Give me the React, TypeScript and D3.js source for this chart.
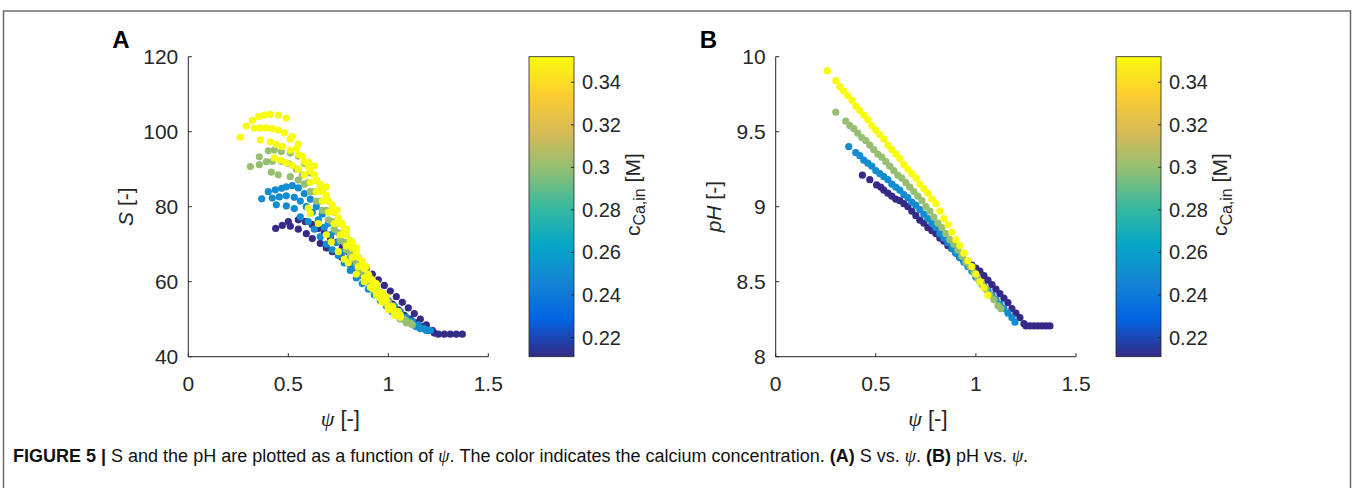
import React from 'react';
import * as d3 from 'd3';

// ---------- data ----------
const parulaColors = ['#352a87', '#0363e1', '#1485d4', '#06a7c6', '#38b99e', '#92bf73', '#d9ba56', '#fcce2e', '#f9fb0e'];
const cDomain = [0.211, 0.352];
const cTicks = [0.22, 0.24, 0.26, 0.28, 0.3, 0.32, 0.34];
const xTicks = [0, 0.5, 1, 1.5];
const sTicks = [40, 60, 80, 100, 120];
const phTicks = [8, 8.5, 9, 9.5, 10];

const concentrations = [0.211, 0.25, 0.30, 0.352];

// Panel A: S vs psi, several runs per concentration
const sNavy: number[][][] = [
  [[0.437,74.2],[0.47,75],[0.50,76],[0.55,76.5],[0.585,76],[0.62,75.2],[0.65,74.2],[0.68,73],[0.71,71.8],[0.74,70.5],[0.77,69.2],[0.80,68],[0.83,66.5],[0.86,65],[0.89,63.5],[0.92,62],[0.95,60.5],[0.98,59],[1.01,57.5],[1.04,56],[1.07,54.5],[1.10,53],[1.13,51.5],[1.16,50],[1.19,48.5],[1.22,47],[1.25,46],[1.28,46],[1.31,46],[1.34,46],[1.37,46]],
  [[0.51,74.8],[0.55,74],[0.59,72.8],[0.62,71.5],[0.66,70.2],[0.69,69],[0.72,68],[0.767,66.5],[0.78,65.8],[0.81,64.5],[0.84,63],[0.87,61.5],[0.90,60],[0.93,58.5],[0.96,57],[0.99,55.5],[1.02,54],[1.05,52.5],[1.08,51],[1.11,50],[1.14,49],[1.17,48],[1.20,47],[1.23,46.3]],
];
const sBlue: number[][][] = [
  [[0.367,82.1],[0.40,84],[0.435,84.5],[0.467,84.9],[0.49,85.3],[0.52,85.6],[0.55,85],[0.58,83.5],[0.61,82],[0.64,80],[0.67,78],[0.70,75.5],[0.73,73.5],[0.76,71],[0.79,69],[0.82,66.5],[0.85,64.5],[0.88,62],[0.91,60],[0.94,58],[0.97,56.5],[1.00,55],[1.03,53.5],[1.06,52],[1.09,50.5],[1.12,49.5],[1.15,48.5],[1.18,47.5],[1.21,47]],
  [[0.42,82.3],[0.455,82.6],[0.49,82.9],[0.53,82.5],[0.56,81.5],[0.59,80],[0.62,78.5],[0.65,76.5],[0.68,74.5],[0.71,72.5],[0.74,70.5],[0.77,68],[0.80,66],[0.83,64],[0.86,62],[0.89,60],[0.92,58],[0.95,56.5],[0.98,55],[1.01,53.5],[1.04,52],[1.07,50.5],[1.10,49.5],[1.13,48.5],[1.16,47.5],[1.19,47]],
  [[0.44,80.5],[0.49,80.2],[0.53,79.5],[0.56,77.3],[0.60,76],[0.63,74],[0.66,72],[0.69,70],[0.72,68.5],[0.75,67],[0.78,65],[0.81,63],[0.84,61],[0.87,59.5],[0.90,58],[0.93,56.5],[0.96,55],[0.99,53.5],[1.02,52],[1.05,51],[1.08,50],[1.11,49],[1.14,48],[1.17,47.5]],
];
const sGreen: number[][][] = [
  [[0.31,90.7],[0.355,93.3],[0.40,94.9],[0.43,95.1],[0.465,94.7],[0.51,94.3],[0.55,93.5],[0.58,91.5],[0.61,89],[0.64,87],[0.67,84.5],[0.70,81.5],[0.73,78.5],[0.76,75.5],[0.79,72.5],[0.82,69.5],[0.85,66.5],[0.88,63.5],[0.91,61],[0.94,58.5],[0.97,56.5],[1.00,54.5],[1.03,52.5],[1.06,51],[1.09,49.5],[1.12,48.5]],
  [[0.355,91.2],[0.39,92],[0.42,92.1],[0.465,92.1],[0.50,91.5],[0.54,90],[0.57,88.5],[0.60,86.5],[0.63,84],[0.66,81.5],[0.69,79],[0.72,76],[0.75,73],[0.78,70.5],[0.81,67.5],[0.84,65],[0.87,62.5],[0.90,60],[0.93,58],[0.96,56],[0.99,54],[1.02,52.5],[1.05,51],[1.08,50],[1.11,49]],
  [[0.415,89.2],[0.45,88.5],[0.51,88],[0.55,87.1],[0.58,86],[0.61,84],[0.64,81.5],[0.67,79],[0.70,76.5],[0.73,74],[0.76,71],[0.79,68.5],[0.82,66],[0.85,63.5],[0.88,61.5],[0.91,59],[0.94,57],[0.97,55],[1.00,53],[1.03,51.5],[1.06,50],[1.09,49]],
];
const sYellow: number[][][] = [
  [[0.26,98.5],[0.29,101.5],[0.32,103],[0.35,104],[0.38,104.4],[0.41,104.6],[0.45,104.4],[0.49,103.6],[0.52,98.7],[0.55,96.7],[0.60,91.9],[0.63,90.9],[0.66,85.8],[0.69,85.3],[0.72,80],[0.745,79.1],[0.77,75.5],[0.79,74],[0.82,70.5],[0.84,69],[0.87,65.5],[0.89,64],[0.92,60.5],[0.94,59.5],[0.97,57],[0.99,56],[1.02,53.5],[1.05,52]],
  [[0.33,100.9],[0.36,101],[0.39,101],[0.42,100.8],[0.45,100.4],[0.48,99.7],[0.51,98],[0.54,95.5],[0.57,93.5],[0.60,90.5],[0.63,88.5],[0.66,86],[0.69,83],[0.72,80.5],[0.75,77],[0.78,74],[0.81,71],[0.84,68],[0.87,65],[0.90,62],[0.93,59.5],[0.96,57],[0.99,55],[1.02,53],[1.05,51.5],[1.06,51]],
  [[0.36,97.8],[0.41,97.3],[0.44,96.6],[0.47,96],[0.51,95],[0.55,93.9],[0.58,92],[0.61,89.5],[0.64,87],[0.67,84],[0.70,81.5],[0.73,78.5],[0.76,75.5],[0.79,72.5],[0.82,69],[0.85,66.5],[0.88,63.5],[0.91,60.5],[0.94,58],[0.97,55.5],[1.00,53.5],[1.03,52],[1.06,50.5]],
  [[0.43,93],[0.46,92.4],[0.49,91.7],[0.52,91],[0.55,90],[0.58,88.5],[0.61,86.5],[0.64,84],[0.67,81.5],[0.70,78.5],[0.73,75.5],[0.76,72.5],[0.79,69.5],[0.82,66.5],[0.85,64],[0.88,61],[0.91,58.5],[0.94,56.5],[0.97,54.5],[1.00,52.5],[1.03,51]],
  [[0.60,79.6],[0.61,78.2],[0.65,75.5],[0.69,72.5],[0.715,70.6],[0.75,68],[0.78,66],[0.80,65],[0.84,62],[0.88,60],[0.925,58],[0.96,55.5],[1.00,53],[1.04,51.5]],
];

// Panel B: pH vs psi, one run per concentration
const phNavy: number[][] = [[0.433,9.21],[0.47,9.18],[0.504,9.145],[0.525,9.13],[0.54,9.11],[0.56,9.09],[0.58,9.07],[0.60,9.05],[0.62,9.04],[0.64,9.02],[0.66,9.0],[0.68,8.97],[0.70,8.94],[0.72,8.91],[0.74,8.89],[0.76,8.86],[0.78,8.84],[0.80,8.82],[0.82,8.79],[0.84,8.77],[0.86,8.74],[0.88,8.72],[0.90,8.69],[0.92,8.66],[0.94,8.64],[0.96,8.62],[0.98,8.61],[1.00,8.59],[1.02,8.57],[1.04,8.54],[1.06,8.51],[1.08,8.48],[1.10,8.45],[1.12,8.42],[1.14,8.39],[1.16,8.36],[1.18,8.32],[1.20,8.29],[1.22,8.26],[1.24,8.22],[1.25,8.205],[1.27,8.205],[1.29,8.205],[1.31,8.205],[1.33,8.205],[1.35,8.205],[1.37,8.205]];
const phBlue: number[][] = [[0.365,9.40],[0.40,9.36],[0.42,9.34],[0.44,9.31],[0.46,9.29],[0.48,9.27],[0.50,9.24],[0.52,9.22],[0.54,9.20],[0.56,9.18],[0.58,9.15],[0.60,9.13],[0.62,9.11],[0.64,9.08],[0.66,9.06],[0.68,9.03],[0.70,9.01],[0.72,8.98],[0.74,8.95],[0.76,8.92],[0.78,8.89],[0.80,8.86],[0.82,8.82],[0.84,8.79],[0.86,8.76],[0.88,8.72],[0.90,8.69],[0.92,8.66],[0.94,8.63],[0.96,8.60],[0.98,8.57],[1.00,8.53],[1.02,8.50],[1.04,8.47],[1.06,8.44],[1.08,8.41],[1.10,8.38],[1.12,8.35],[1.14,8.32],[1.16,8.29],[1.18,8.26],[1.195,8.23]];
const phGreen: number[][] = [[0.30,9.63],[0.35,9.57],[0.37,9.54],[0.39,9.52],[0.41,9.49],[0.43,9.46],[0.45,9.44],[0.47,9.41],[0.49,9.38],[0.51,9.35],[0.53,9.33],[0.55,9.30],[0.57,9.27],[0.59,9.24],[0.61,9.21],[0.63,9.19],[0.65,9.16],[0.67,9.13],[0.69,9.10],[0.71,9.07],[0.73,9.04],[0.75,9.00],[0.77,8.97],[0.79,8.93],[0.81,8.89],[0.83,8.86],[0.85,8.82],[0.87,8.78],[0.89,8.75],[0.91,8.71],[0.93,8.67],[0.95,8.63],[0.97,8.60],[0.99,8.56],[1.01,8.52],[1.03,8.48],[1.05,8.45],[1.07,8.41],[1.09,8.38],[1.11,8.34],[1.125,8.32]];
const phYellow: number[][] = [[0.258,9.905],[0.30,9.84],[0.32,9.80],[0.34,9.77],[0.36,9.74],[0.38,9.71],[0.40,9.67],[0.42,9.64],[0.44,9.61],[0.46,9.58],[0.48,9.54],[0.50,9.51],[0.52,9.48],[0.54,9.45],[0.56,9.41],[0.58,9.38],[0.60,9.35],[0.62,9.32],[0.64,9.28],[0.66,9.25],[0.68,9.22],[0.70,9.19],[0.72,9.15],[0.74,9.12],[0.76,9.09],[0.78,9.05],[0.80,9.02],[0.82,8.97],[0.84,8.92],[0.86,8.88],[0.88,8.83],[0.90,8.78],[0.92,8.74],[0.94,8.69],[0.96,8.64],[0.98,8.60],[1.00,8.55],[1.02,8.50],[1.04,8.46],[1.06,8.41]];

const sRuns = [sNavy, sBlue, sGreen, sYellow];
const phRuns = [phNavy, phBlue, phGreen, phYellow];

// ---------- helpers ----------
const FONT = '"Liberation Sans", Arial, Helvetica, sans-serif';
const SERIF = '"Liberation Serif", "DejaVu Serif", serif';
const INK = '#262626';

const colorScale = d3
  .scaleLinear<string>()
  .domain(parulaColors.map((_, i) => cDomain[0] + (i / (parulaColors.length - 1)) * (cDomain[1] - cDomain[0])))
  .range(parulaColors)
  .interpolate(d3.interpolateRgb)
  .clamp(true);

const top = 56.7;
const bottom = 356.7;

function Panel({ x0, x1, yDomain, yTicks, runs, perRunNested, yFmt, yLabel, letter, cbX, gid }: any) {
  const xs = d3.scaleLinear().domain([0, 1.5]).range([x0, x1]);
  const ys = d3.scaleLinear().domain(yDomain).range([bottom, top]);
  const cs = d3.scaleLinear().domain(cDomain).range([bottom, top]);
  const tl = 3.5;
  const dots: any[] = [];
  runs.forEach((group: any, gi: number) => {
    const col = colorScale(concentrations[gi]);
    const list = perRunNested ? group : [group];
    list.forEach((run: number[][], ri: number) => {
      run.forEach((p, pi) => {
        dots.push(<circle key={`${gi}-${ri}-${pi}`} cx={xs(p[0])} cy={ys(p[1])} r={3.6} fill={col} />);
      });
    });
  });
  const cbW = 45;
  return (
    <g>
      <line x1={x0} x2={x0} y1={top} y2={bottom} stroke={INK} strokeWidth={1} />
      <line x1={x0} x2={x1} y1={bottom} y2={bottom} stroke={INK} strokeWidth={1} />
      {xTicks.map((t) => (
        <g key={'xt' + t}>
          <line x1={xs(t)} x2={xs(t)} y1={bottom} y2={bottom - tl} stroke={INK} />
          <text x={xs(t)} y={bottom + 34} textAnchor="middle" fontSize={21} fontFamily={FONT} fill={INK}>
            {String(t)}
          </text>
        </g>
      ))}
      {yTicks.map((t: number) => (
        <g key={'yt' + t}>
          <line x1={x0} x2={x0 + tl} y1={ys(t)} y2={ys(t)} stroke={INK} />
          <text x={x0 - 10} y={ys(t) + 7.5} textAnchor="end" fontSize={21} fontFamily={FONT} fill={INK}>
            {yFmt(t)}
          </text>
        </g>
      ))}
      {dots}
      <text x={(x0 + x1) / 2 + 2} y={426} textAnchor="middle" fontSize={22} fontFamily={FONT} fill={INK}>
        <tspan fontFamily={SERIF} fontStyle="italic">ψ</tspan>
        <tspan> [-]</tspan>
      </text>
      <text transform={`translate(${x0 - 55},${(top + bottom) / 2}) rotate(-90)`} textAnchor="middle" fontSize={21} fontFamily={FONT} fill={INK}>
        {yLabel}
      </text>
      <text x={x0 - 76} y={48} fontSize={24} fontWeight="bold" fontFamily={FONT} fill="#000">
        {letter}
      </text>
      <defs>
        <linearGradient id={gid} x1="0" y1="1" x2="0" y2="0">
          {parulaColors.map((c, i) => (
            <stop key={i} offset={i / (parulaColors.length - 1)} stopColor={c} />
          ))}
        </linearGradient>
      </defs>
      <rect x={cbX} y={top} width={cbW} height={bottom - top} fill={`url(#${gid})`} stroke={INK} strokeWidth={0.8} />
      {cTicks.map((t) => (
        <g key={'ct' + t}>
          <line x1={cbX + cbW} x2={cbX + cbW - 3} y1={cs(t)} y2={cs(t)} stroke={INK} />
          <text x={cbX + cbW + 8} y={cs(t) + 7} fontSize={20} fontFamily={FONT} fill={INK}>
            {String(t)}
          </text>
        </g>
      ))}
      <text transform={`translate(${cbX + cbW + 66},${(top + bottom) / 2 - 12}) rotate(-90)`} textAnchor="middle" fontSize={21} fontFamily={FONT} fill={INK}>
        <tspan>c</tspan>
        <tspan fontSize={16} dy={5}>Ca,in</tspan>
        <tspan dy={-5}> [M]</tspan>
      </text>
    </g>
  );
}

export default function App() {
  return (
    <svg width={1354} height={488} style={{ position: 'absolute', left: 0, top: 0, background: '#fff' }} xmlns="http://www.w3.org/2000/svg">
      <rect x={0} y={0} width={1354} height={488} fill="#fff" />
      <rect x={3.5} y={11} width={1347} height={600} fill="none" stroke="#6b6b6b" strokeWidth={1.5} />
      <Panel
        x0={188.3}
        x1={488.3}
        yDomain={[40, 120]}
        yTicks={sTicks}
        runs={sRuns}
        perRunNested={true}
        yFmt={(t: number) => String(t)}
        yLabel={<><tspan fontStyle="italic">S</tspan><tspan> [-]</tspan></>}
        letter="A"
        cbX={529}
        gid="gradA"
      />
      <Panel
        x0={775.7}
        x1={1076}
        yDomain={[8, 10]}
        yTicks={phTicks}
        runs={phRuns}
        perRunNested={false}
        yFmt={(t: number) => String(t)}
        yLabel={<><tspan fontStyle="italic">pH</tspan><tspan> [-]</tspan></>}
        letter="B"
        cbX={1116}
        gid="gradB"
      />
      <text x={13} y={462} fontSize={18} fontFamily={FONT} fill="#111">
        <tspan fontWeight="bold">FIGURE 5 | </tspan>
        <tspan>S and the pH are plotted as a function of </tspan>
        <tspan fontFamily={SERIF} fontStyle="italic">ψ</tspan>
        <tspan>. The color indicates the calcium concentration. </tspan>
        <tspan fontWeight="bold">(A)</tspan>
        <tspan> S vs. </tspan>
        <tspan fontFamily={SERIF} fontStyle="italic">ψ</tspan>
        <tspan>. </tspan>
        <tspan fontWeight="bold">(B)</tspan>
        <tspan> pH vs. </tspan>
        <tspan fontFamily={SERIF} fontStyle="italic">ψ</tspan>
        <tspan>.</tspan>
      </text>
    </svg>
  );
}
